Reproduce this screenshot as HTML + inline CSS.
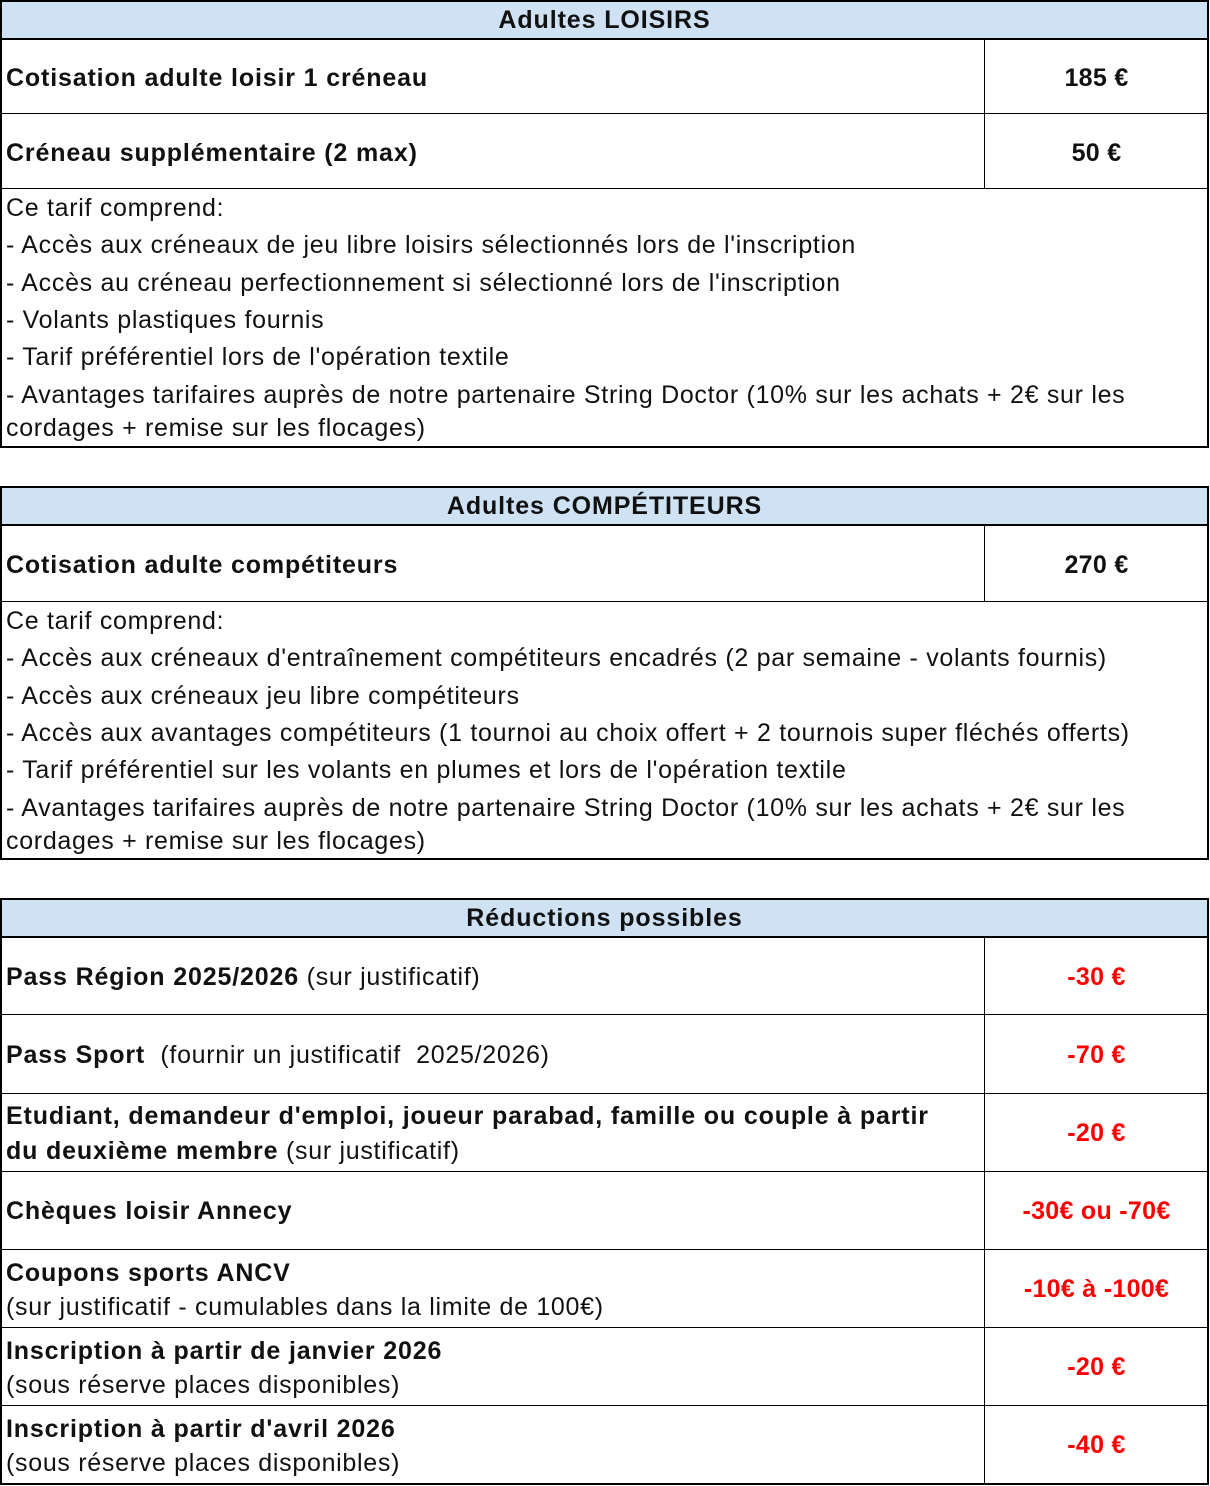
<!DOCTYPE html>
<html><head><meta charset="utf-8"><style>
body{margin:0;width:1210px;height:1486px;background:#fff;position:relative;font-family:"Liberation Sans",Arial,sans-serif;color:#111;overflow:hidden}
.b{position:absolute;background:#000}
.h{position:absolute;background:#cfe2f3}
.t{position:absolute;left:6px;line-height:28px;font-size:25px;white-space:nowrap;letter-spacing:0.7px}
.bd{font-weight:bold;letter-spacing:0.85px}
.c{position:absolute;left:986px;width:221px;text-align:center;line-height:28px;font-size:25px;font-weight:bold;white-space:nowrap;letter-spacing:0.3px}
.r{color:#f00}
.hd{position:absolute;left:0;width:1209px;text-align:center;line-height:28px;font-size:25px;font-weight:bold;letter-spacing:0.9px}
</style></head><body>
<!-- Table 1 -->
<div class="h" style="left:0;top:0;width:1209px;height:39px"></div>
<div class="b" style="left:0;top:0;width:1209px;height:2px"></div>
<div class="b" style="left:0;top:38px;width:1209px;height:2px"></div>
<div class="b" style="left:0;top:113px;width:1209px;height:1px"></div>
<div class="b" style="left:0;top:188px;width:1209px;height:1px"></div>
<div class="b" style="left:0;top:446px;width:1209px;height:2px"></div>
<div class="b" style="left:0;top:0;width:2px;height:448px"></div>
<div class="b" style="left:1207px;top:0;width:2px;height:448px"></div>
<div class="b" style="left:984px;top:40px;width:1px;height:148px"></div>
<div class="hd" style="top:6px">Adultes LOISIRS</div>
<div class="t bd" style="top:64px">Cotisation adulte loisir 1 créneau</div>
<div class="c" style="top:64px">185 €</div>
<div class="t bd" style="top:139px">Créneau supplémentaire (2 max)</div>
<div class="c" style="top:139px">50 €</div>
<div class="t" style="top:194px">Ce tarif comprend:</div>
<div class="t" style="top:231px">- Accès aux créneaux de jeu libre loisirs sélectionnés lors de l'inscription</div>
<div class="t" style="top:269px">- Accès au créneau perfectionnement si sélectionné lors de l'inscription</div>
<div class="t" style="top:306px">- Volants plastiques fournis</div>
<div class="t" style="top:343px">- Tarif préférentiel lors de l'opération textile</div>
<div class="t" style="top:381px">- Avantages tarifaires auprès de notre partenaire String Doctor (10% sur les achats + 2€ sur les</div>
<div class="t" style="top:414px">cordages + remise sur les flocages)</div>

<!-- Table 2 -->
<div class="h" style="left:0;top:486px;width:1209px;height:39px"></div>
<div class="b" style="left:0;top:486px;width:1209px;height:2px"></div>
<div class="b" style="left:0;top:524px;width:1209px;height:2px"></div>
<div class="b" style="left:0;top:601px;width:1209px;height:1px"></div>
<div class="b" style="left:0;top:858px;width:1209px;height:2px"></div>
<div class="b" style="left:0;top:486px;width:2px;height:374px"></div>
<div class="b" style="left:1207px;top:486px;width:2px;height:374px"></div>
<div class="b" style="left:984px;top:526px;width:1px;height:75px"></div>
<div class="hd" style="top:492px">Adultes COMPÉTITEURS</div>
<div class="t bd" style="top:551px">Cotisation adulte compétiteurs</div>
<div class="c" style="top:551px">270 €</div>
<div class="t" style="top:607px">Ce tarif comprend:</div>
<div class="t" style="top:644px">- Accès aux créneaux d'entraînement compétiteurs encadrés (2 par semaine - volants fournis)</div>
<div class="t" style="top:682px">- Accès aux créneaux jeu libre compétiteurs</div>
<div class="t" style="top:719px">- Accès aux avantages compétiteurs (1 tournoi au choix offert + 2 tournois super fléchés offerts)</div>
<div class="t" style="top:756px">- Tarif préférentiel sur les volants en plumes et lors de l'opération textile</div>
<div class="t" style="top:794px">- Avantages tarifaires auprès de notre partenaire String Doctor (10% sur les achats + 2€ sur les</div>
<div class="t" style="top:827px">cordages + remise sur les flocages)</div>

<!-- Table 3 -->
<div class="h" style="left:0;top:898px;width:1209px;height:39px"></div>
<div class="b" style="left:0;top:898px;width:1209px;height:2px"></div>
<div class="b" style="left:0;top:936px;width:1209px;height:2px"></div>
<div class="b" style="left:0;top:1014px;width:1209px;height:1px"></div>
<div class="b" style="left:0;top:1093px;width:1209px;height:1px"></div>
<div class="b" style="left:0;top:1171px;width:1209px;height:1px"></div>
<div class="b" style="left:0;top:1249px;width:1209px;height:1px"></div>
<div class="b" style="left:0;top:1327px;width:1209px;height:1px"></div>
<div class="b" style="left:0;top:1405px;width:1209px;height:1px"></div>
<div class="b" style="left:0;top:1483px;width:1209px;height:2px"></div>
<div class="b" style="left:0;top:898px;width:2px;height:587px"></div>
<div class="b" style="left:1207px;top:898px;width:2px;height:587px"></div>
<div class="b" style="left:984px;top:938px;width:1px;height:546px"></div>
<div class="hd" style="top:904px">Réductions possibles</div>
<div class="t" style="top:963px"><b style="letter-spacing:0.85px">Pass Région 2025/2026</b> (sur justificatif)</div>
<div class="c r" style="top:963px">-30 €</div>
<div class="t" style="top:1041px"><b style="letter-spacing:0.85px">Pass Sport</b>&nbsp; (fournir un justificatif&nbsp; 2025/2026)</div>
<div class="c r" style="top:1041px">-70 €</div>
<div class="t bd" style="top:1102px">Etudiant, demandeur d'emploi, joueur parabad, famille ou couple à partir</div>
<div class="t" style="top:1137px"><b style="letter-spacing:0.85px">du deuxième membre</b> (sur justificatif)</div>
<div class="c r" style="top:1119px">-20 €</div>
<div class="t bd" style="top:1197px">Chèques loisir Annecy</div>
<div class="c r" style="top:1197px">-30€ ou -70€</div>
<div class="t bd" style="top:1259px">Coupons sports ANCV</div>
<div class="t" style="top:1293px">(sur justificatif - cumulables dans la limite de 100€)</div>
<div class="c r" style="top:1275px">-10€ à -100€</div>
<div class="t bd" style="top:1337px">Inscription à partir de janvier 2026</div>
<div class="t" style="top:1371px">(sous réserve places disponibles)</div>
<div class="c r" style="top:1353px">-20 €</div>
<div class="t bd" style="top:1415px">Inscription à partir d'avril 2026</div>
<div class="t" style="top:1449px">(sous réserve places disponibles)</div>
<div class="c r" style="top:1431px">-40 €</div>
</body></html>
